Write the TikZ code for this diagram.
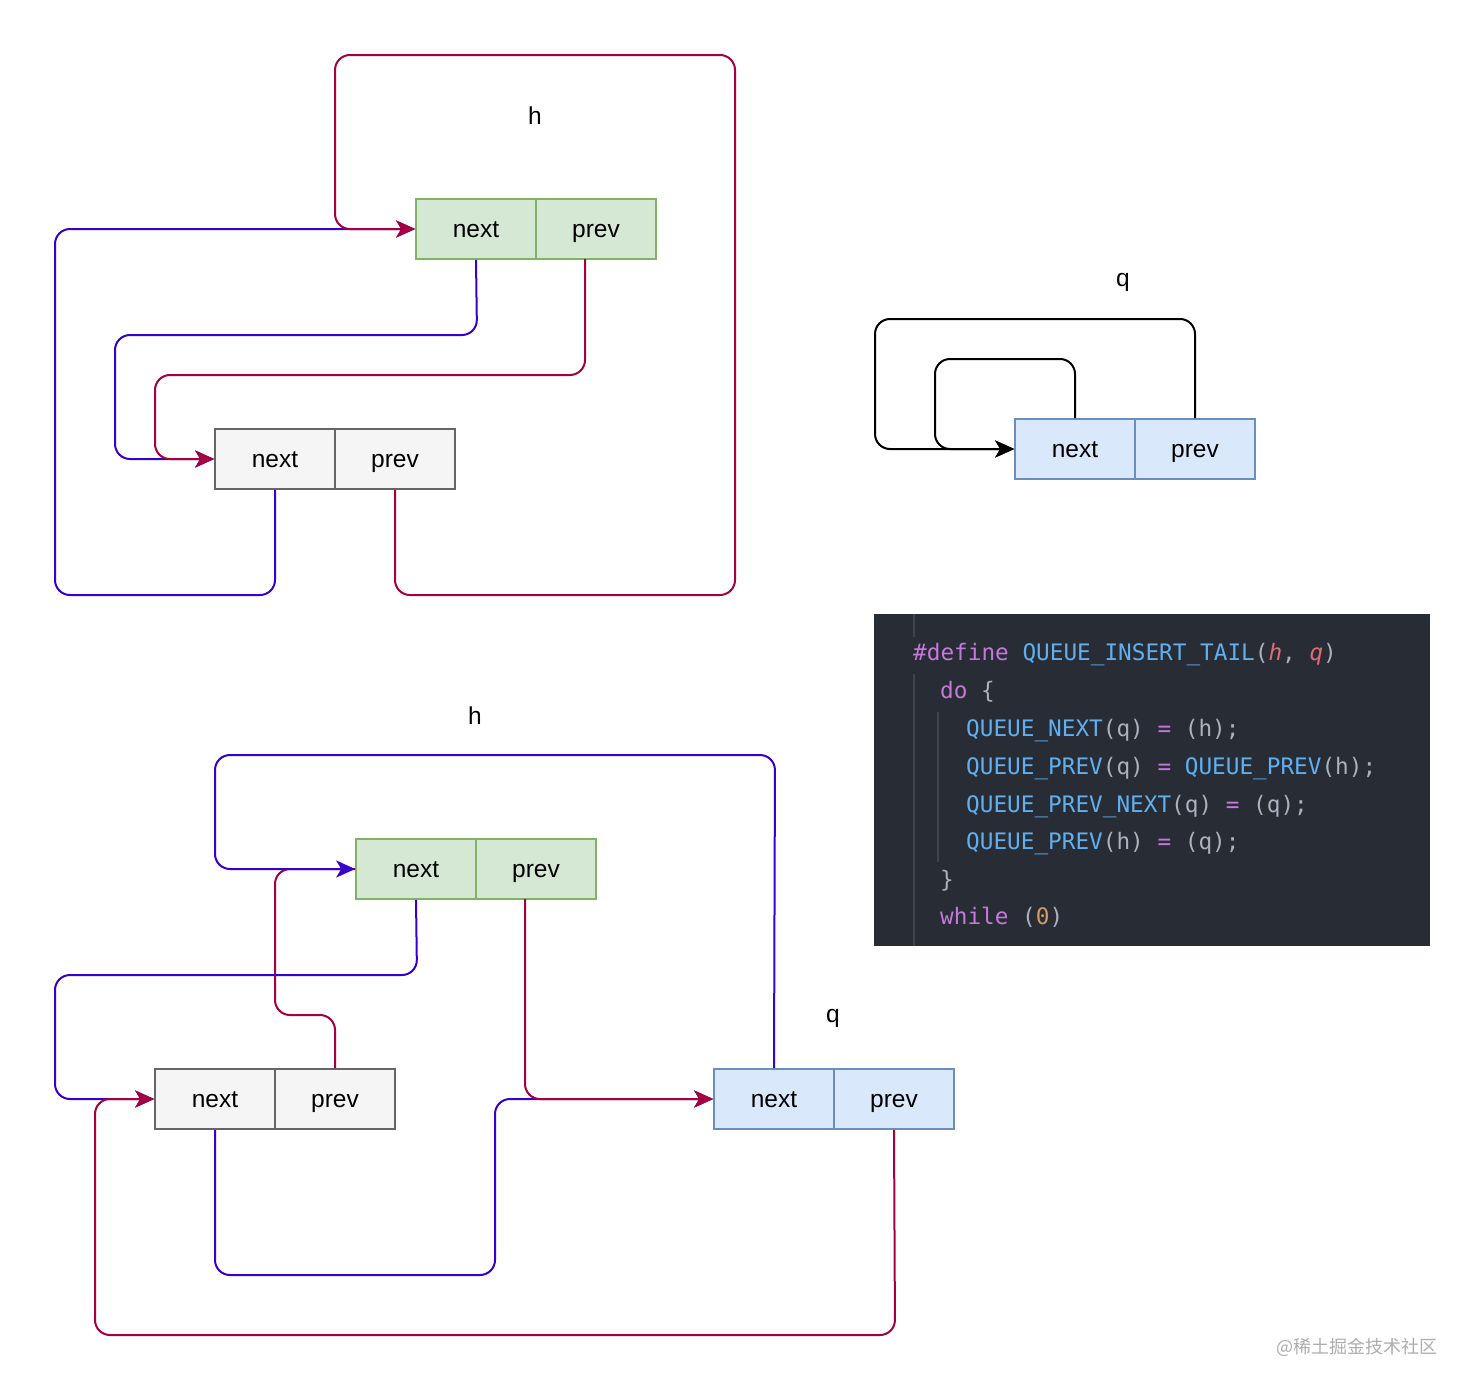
\documentclass[tikz,border=0pt]{standalone}
\usepackage{fontspec}
\setmainfont{Liberation Sans}
\setmonofont{DejaVu Sans Mono}
\newfontfamily\cjk{Noto Sans CJK SC}
\usetikzlibrary{arrows.meta}
\definecolor{blu}{HTML}{3700CC}
\definecolor{crm}{HTML}{A50040}
\definecolor{gfill}{HTML}{D5E8D4}
\definecolor{gline}{HTML}{82B366}
\definecolor{hfill}{HTML}{F5F5F5}
\definecolor{hline}{HTML}{666666}
\definecolor{bfill}{HTML}{DAE8FC}
\definecolor{bline}{HTML}{6C8EBF}
\definecolor{codebg}{HTML}{282C34}
\definecolor{guide}{HTML}{3E434C}
\definecolor{cpur}{HTML}{C678DD}
\definecolor{cblu}{HTML}{61AFEF}
\definecolor{cred}{HTML}{E06C75}
\definecolor{cgry}{HTML}{ABB2BF}
\definecolor{corg}{HTML}{D19A66}
\begin{document}
\begin{tikzpicture}[x=1pt,y=-1pt,
  cell/.style={draw, line width=1.6pt, minimum width=120pt, minimum height=60pt, inner sep=0pt, text height=18pt, text depth=1pt, font=\fontsize{24.5}{24.5}\selectfont},
  gcell/.style={cell, fill=gfill, draw=gline},
  hcell/.style={cell, fill=hfill, draw=hline},
  bcell/.style={cell, fill=bfill, draw=bline},
  lbl/.style={font=\fontsize{24.5}{24.5}\selectfont, inner sep=0pt},
  link/.style={line width=2pt, rounded corners=15pt},
  bl/.style={link, draw=blu},
  cr/.style={link, draw=crm},
  bk/.style={link, draw=black},
  tip/.style={-{Stealth[length=19pt,width=17pt,inset=5pt]}},
  code/.style={anchor=base west, inner sep=0pt, font=\ttfamily\fontsize{22.7}{26}\selectfont, text=cgry},
]
\useasboundingbox (0,0) rectangle (1472,1392);

% ---------- diagram 1 ----------
\node[lbl] (h1) at (535,116) {h};
\node[gcell] (A1n) at (476,229) {next};
\node[gcell] (A1p) at (596,229) {prev};
\node[hcell] (B1n) at (275,459) {next};
\node[hcell] (B1p) at (395,459) {prev};

\draw[bl,tip] (B1n.south) -- (275,595) -- (55,595) -- (55,229) -- (A1n.west);
\draw[cr,tip] (B1p.south) -- (395,595) -- (735,595) -- (735,55) -- (335,55) -- (335,229) -- (A1n.west);
\draw[bl,tip] (A1n.south) -- (477,335) -- (115,335) -- (115,459) -- (B1n.west);
\draw[cr,tip] (585,259) -- (585,375) -- (155,375) -- (155,459) -- (B1n.west);

% ---------- diagram 2 ----------
\node[lbl] (q1) at (1123,282) {q};
\node[bcell] (Q1n) at (1075,449) {next};
\node[bcell] (Q1p) at (1195,449) {prev};
\draw[bk,tip] (Q1p.north) -- (1195,319) -- (875,319) -- (875,449) -- (Q1n.west);
\draw[bk,tip] (Q1n.north) -- (1075,359) -- (935,359) -- (935,449) -- (Q1n.west);

% ---------- code ----------
\fill[codebg] (874,614) rectangle (1430,946);
\draw[guide, line width=1.2pt] (914,614) -- (914,637);
\draw[guide, line width=1.2pt] (914,674) -- (914,946);
\draw[guide, line width=1.2pt] (938,712) -- (938,862);
\node[code] (c1) at (913,660) {\textcolor{cpur}{\#define} \textcolor{cblu}{QUEUE\_INSERT\_TAIL}(\textcolor{cred}{\itshape h}, \textcolor{cred}{\itshape q})};
\node[code] (c2) at (940,698) {\textcolor{cpur}{do} \{};
\node[code] (c3) at (966,736) {\textcolor{cblu}{QUEUE\_NEXT}(q) \textcolor{cpur}{=} (h);};
\node[code] (c4) at (966,774) {\textcolor{cblu}{QUEUE\_PREV}(q) \textcolor{cpur}{=} \textcolor{cblu}{QUEUE\_PREV}(h);};
\node[code] (c5) at (966,812) {\textcolor{cblu}{QUEUE\_PREV\_NEXT}(q) \textcolor{cpur}{=} (q);};
\node[code] (c6) at (966,849) {\textcolor{cblu}{QUEUE\_PREV}(h) \textcolor{cpur}{=} (q);};
\node[code] (c7) at (940,887) {\}};
\node[code] (c8) at (940,924) {\textcolor{cpur}{while} (\textcolor{corg}{0})};

% ---------- diagram 3 ----------
\node[lbl] (h2) at (475,716) {h};
\node[gcell] (A2n) at (416,869) {next};
\node[gcell] (A2p) at (536,869) {prev};
\node[hcell] (B2n) at (215,1099) {next};
\node[hcell] (B2p) at (335,1099) {prev};
\node[lbl] (q2) at (833,1018) {q};
\node[bcell] (Q2n) at (774,1099) {next};
\node[bcell] (Q2p) at (894,1099) {prev};

\draw[cr] (B2p.north) -- (335,1015) -- (275,1015) -- (275,869) -- (A2n.west);
\draw[bl,tip] (Q2n.north) -- (775,755) -- (215,755) -- (215,869) -- (A2n.west);
\draw[bl,tip] (A2n.south) -- (417,975) -- (55,975) -- (55,1099) -- (B2n.west);
\draw[cr,tip] (Q2p.south) -- (895,1335) -- (95,1335) -- (95,1099) -- (B2n.west);
\draw[bl,tip] (B2n.south) -- (215,1275) -- (495,1275) -- (495,1099) -- (Q2n.west);
\draw[cr,tip] (525,899) -- (525,1099) -- (Q2n.west);

% ---------- watermark ----------
\node[inner sep=0pt, text=black!32, font=\cjk\fontsize{18}{18}\selectfont] (wm) at (1357,1347) {@稀土掘金技术社区};
\end{tikzpicture}
\end{document}
